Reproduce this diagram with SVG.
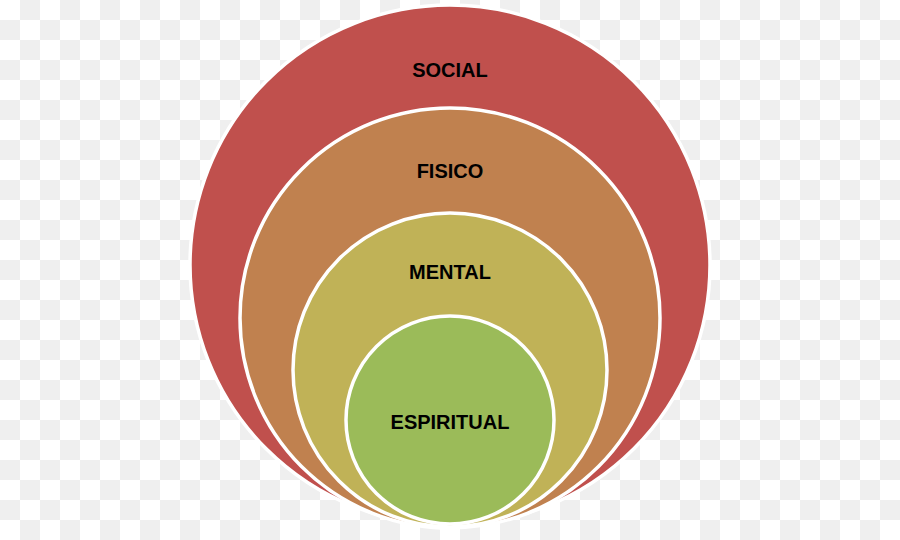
<svg xmlns="http://www.w3.org/2000/svg" width="900" height="540" viewBox="0 0 900 540">
<defs>
<pattern id="checker" width="40" height="40" patternUnits="userSpaceOnUse">
<rect width="40" height="40" fill="#ffffff"/>
<rect x="20" y="0" width="20" height="20" fill="#efefef"/>
<rect x="0" y="20" width="20" height="20" fill="#efefef"/>
</pattern>
</defs>
<style>
.ring{stroke:#ffffff;stroke-width:3.5}
.lbl{font-family:"Liberation Sans",Arial,sans-serif;font-weight:bold;font-size:20px;fill:#000000;text-anchor:middle}
</style>
<rect width="900" height="540" fill="url(#checker)"/>
<g id="social">
<circle class="ring" cx="450" cy="265" r="260" fill="#C0504D"/>
<text class="lbl" x="450" y="77">SOCIAL</text>
</g>
<g id="fisico">
<circle class="ring" cx="450" cy="318" r="210" fill="#C0814F"/>
<text class="lbl" x="450" y="178">FISICO</text>
</g>
<g id="mental">
<circle class="ring" cx="450" cy="370" r="157" fill="#C0B257"/>
<text class="lbl" x="450" y="279">MENTAL</text>
</g>
<g id="espiritual">
<circle class="ring" cx="450" cy="420" r="104" fill="#9BBB59"/>
<text class="lbl" x="450" y="429">ESPIRITUAL</text>
</g>
<g id="connectors"/>
</svg>
